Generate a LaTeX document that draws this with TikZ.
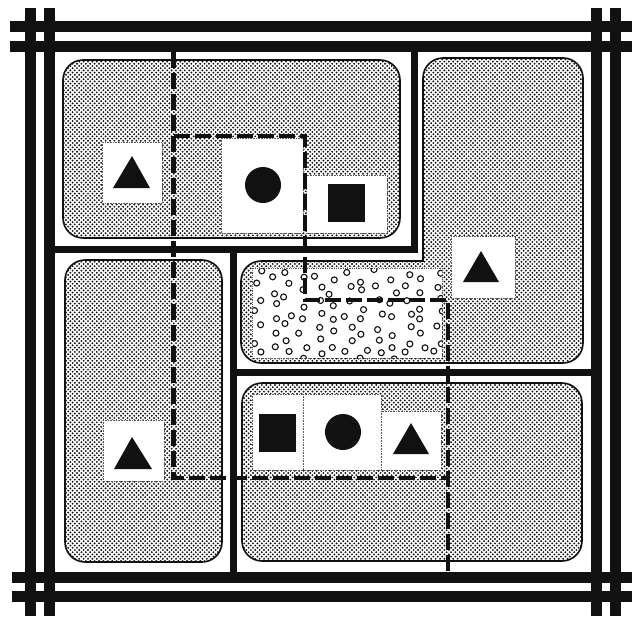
\documentclass[tikz,border=0pt]{standalone}
\usepackage{xcolor}
\definecolor{inkblack}{HTML}{111111}
\usepackage{tikz}
\usetikzlibrary{patterns}
\pgfdeclarepatternformonly{halftone}{\pgfqpoint{-1.2pt}{-1.2pt}}{\pgfqpoint{3.4pt}{3.4pt}}{\pgfqpoint{4.4pt}{4.4pt}}{%
  \pgfpathcircle{\pgfqpoint{0pt}{0pt}}{1.05pt}%
  \pgfpathcircle{\pgfqpoint{2.2pt}{2.2pt}}{1.05pt}%
  \pgfusepath{fill}}

\begin{document}
\begin{tikzpicture}[x=1pt, y=-1pt,
    rail/.style={inkblack, line width=11pt},
    wall/.style={inkblack, line width=7pt},
    plot/.style={pattern=halftone, pattern color=inkblack, draw=inkblack, line width=1.6pt, rounded corners=20pt},
    card/.style={fill=white, draw=inkblack!70, line width=0.6pt, densely dotted},
    pebble/.style={inkblack, line width=1.1pt},
    route/.style={inkblack, line width=4.5pt, dash pattern=on 16pt off 5pt}]
    \useasboundingbox (0,0) rectangle (632,616);
    \fill[white] (0,0) rectangle (632,616);
    % planted areas
    \path[plot] (63,60) rectangle (400,238);
    \path[plot] (65,260) rectangle (222,562);
    \path[plot] (242,383) rectangle (582,561);
    \path[plot] (330,261) -- (241,261) -- (241,363) -- (583,363) -- (583,58)
      -- (423,58) [sharp corners] -- (423,261) -- cycle;
    % gravel bed
    \fill[white] (252,268) rectangle (442,358);
    \begin{scope}
      \clip (252,268) rectangle (442,358);
      \pgfmathsetseed{17}
      \foreach \i in {0,...,12} {
        \foreach \j in {0,...,6} {
          \pgfmathsetmacro\cx{258+\i*15+rand*4.5}
          \pgfmathsetmacro\cy{273+\j*13.5+mod(\i,2)*6.5+rand*3.5}
          \draw[pebble] (\cx,\cy) circle (3);
        }
      }
    \end{scope}
    \draw[inkblack!70, line width=0.8pt, densely dotted] (252,268) rectangle (442,358);
    % symbol cards
    \path[card] (102,142) rectangle (162,203);
    \fill[inkblack] (132,156) -- (150,188) -- (113,188) -- cycle;
    \path[card] (221,138) rectangle (303,233);
    \fill[inkblack] (263,185) circle (18);
    \path[card] (306,175) rectangle (387,233);
    \fill[inkblack] (328,184) rectangle (365,222);
    \path[card] (451,236) rectangle (515,298);
    \fill[inkblack] (481,251) -- (499,282) -- (463,282) -- cycle;
    \path[card] (103,420) rectangle (164,481);
    \fill[inkblack] (132,437) -- (152,469) -- (114,469) -- cycle;
    \path[card] (252,394) rectangle (303,470);
    \fill[inkblack] (259,414) rectangle (296,452);
    \path[card] (303,394) rectangle (381,470);
    \fill[inkblack] (343,432) circle (18);
    \path[card] (381,411) rectangle (441,470);
    \fill[inkblack] (411,423) -- (429,454) -- (393,454) -- cycle;
    % inner walls
    \draw[wall] (55,249) -- (417.5,249);
    \draw[wall] (414,52) -- (414,252.5);
    \draw[wall] (233,249) -- (233,572);
    \draw[wall] (233,372.5) -- (591,372.5);
    % double border
    \foreach \y in {26.5,46} \draw[rail] (10,\y) -- (632,\y);
    \foreach \y in {577.5,596.5} \draw[rail] (12,\y) -- (632,\y);
    \foreach \x in {30.5,49,596.5,615} \draw[rail] (\x,8) -- (\x,616);
    % walking route
    \coordinate (r0) at (173.5,52);
    \coordinate (r1) at (173.5,478);
    \coordinate (r2) at (448,478);
    \coordinate (r3) at (448,572);
    \coordinate (l0) at (173.5,136);
    \coordinate (l1) at (305,136);
    \coordinate (l2) at (305,300);
    \coordinate (l3) at (448,300);
    \draw[route] (r0) -- (r1) -- (r2);
    \draw[route] (l0) -- (l1) -- (l2) -- (l3) -- (r3);
  \end{tikzpicture}
\end{document}
